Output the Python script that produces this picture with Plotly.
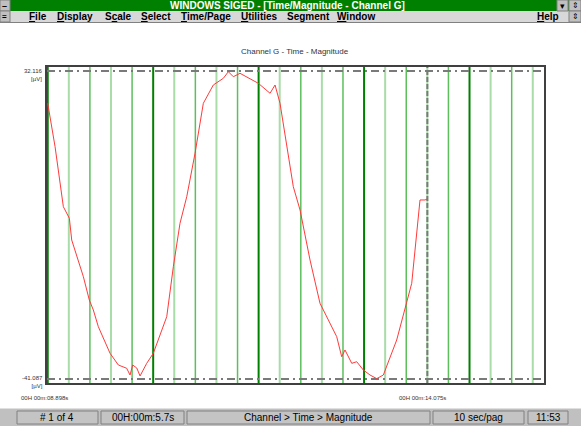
import plotly.graph_objects as go

W, H = 581, 426

# ---- data ----
time_s = [8.898, 8.998, 9.111, 9.193, 9.225, 9.384, 9.465, 9.520, 9.588, 9.748,
          9.861, 9.975, 10.020, 10.057, 10.112, 10.157, 10.248, 10.338, 10.521, 10.611,
          10.702, 10.794, 10.907, 11.020, 11.156, 11.293, 11.361, 11.429, 11.520, 11.770,
          11.930, 11.998, 12.066, 12.247, 12.339, 12.475, 12.611, 12.839, 12.907, 12.952,
          13.044, 13.112, 13.202, 13.293, 13.385, 13.475, 13.657, 13.794, 13.862, 13.975,
          14.043, 14.075]
magnitude_uv = [24.44, 14.12, -0.14, -2.89, -8.05, -16.77, -22.31, -24.69, -28.66, -34.98,
                -37.76, -38.54, -40.14, -37.76, -38.47, -40.37, -37.36, -34.98, -26.28, -14.40,
                -4.08, 2.24, 12.56, 24.44, 28.79, 30.38, 31.95, 30.76, 31.57, 29.19,
                26.82, 28.79, 24.44, 4.62, -0.92, -12.80, -23.09, -31.03, -35.79, -34.19,
                -37.36, -36.98, -38.95, -40.14, -41.00, -40.14, -31.82, -23.09, -18.34, 1.46,
                1.46, 1.69]

y_max_label = 32.116
y_min_label = -41.087
t_start = 8.898
t_end = 14.075
div_sec = 0.28761          # seconds per vertical division
n_divs = 24
x_range = [8.888, 15.666]
y_range = [-42.038, 33.067]

menu_items = ["<u>F</u>ile", "<u>D</u>isplay", "S<u>c</u>ale", "<u>S</u>elect", "<u>T</u>ime/Page",
              "<u>U</u>tilities", "Segment", "<u>W</u>indow"]
menu_x = [38, 75, 118, 156, 206, 259, 308, 356]
status_texts = ["# 1 of 4", "00H:00m:5.7s", "Channel > Time > Magnitude", "10 sec/pag", "11:53"]
status_panels = [(17, 98), (101, 184), (187, 430), (433, 524), (528, 568)]


def X(px):
    return px / W


def Y(py):
    return 1 - py / H


def txt(text, px, py, size, color="black", xanchor="center", family="Liberation Sans", align="center"):
    return dict(text=text, x=X(px), y=Y(py), xref="paper", yref="paper", showarrow=False,
                xanchor=xanchor, yanchor="middle", align=align, borderpad=0,
                font=dict(family=family, size=size, color=color))


fig = go.Figure()

fig.add_trace(go.Scatter(x=time_s, y=magnitude_uv, mode="lines",
                         line=dict(color="#ff3a3a", width=1), hoverinfo="skip",
                         showlegend=False))

shapes = []
# vertical grid lines
for k in range(n_divs):
    xv = t_start + k * div_sec
    if k % 5 == 0:
        col, wd = "#008000", 2
    elif (k % 5) % 2 == 1:
        col, wd = "#a8dca8", 2
    else:
        col, wd = "#5cbf5c", 1.5
    shapes.append(dict(type="line", xref="x", yref="y domain", x0=xv, x1=xv, y0=0, y1=1,
                       line=dict(color=col, width=wd), layer="below"))
# dashed reference lines
for yv in (y_max_label, y_min_label):
    shapes.append(dict(type="line", xref="x domain", yref="y", x0=0, x1=1, y0=yv, y1=yv,
                       line=dict(color="#7a7a7a", width=2, dash="8px,4px,2px,4px"), layer="below"))
shapes.append(dict(type="line", xref="x", yref="y domain", x0=t_end, x1=t_end, y0=0, y1=1,
                   line=dict(color="#7a7a7a", width=2, dash="5px,2px"), layer="below"))

# window chrome
shapes += [
    dict(type="rect", xref="paper", yref="paper", x0=0, x1=1, y0=Y(11), y1=Y(0),
         fillcolor="#008000", line=dict(width=0)),
    dict(type="rect", xref="paper", yref="paper", x0=0, x1=1, y0=Y(22), y1=Y(11),
         fillcolor="#d8d8d8", line=dict(width=0)),
    dict(type="line", xref="paper", yref="paper", x0=0, x1=1, y0=Y(22.5), y1=Y(22.5),
         line=dict(color="#808080", width=1)),
    dict(type="rect", xref="paper", yref="paper", x0=X(0), x1=X(10), y0=Y(11), y1=Y(0),
         fillcolor="#c0c0c0", line=dict(color="#808080", width=1)),
    dict(type="rect", xref="paper", yref="paper", x0=X(0), x1=X(10), y0=Y(22), y1=Y(11),
         fillcolor="#c0c0c0", line=dict(color="#808080", width=1)),
    dict(type="rect", xref="paper", yref="paper", x0=X(557), x1=X(568), y0=Y(11), y1=Y(0),
         fillcolor="#c0c0c0", line=dict(color="#808080", width=1)),
    dict(type="rect", xref="paper", yref="paper", x0=X(569), x1=X(581), y0=Y(11), y1=Y(0),
         fillcolor="#c0c0c0", line=dict(color="#808080", width=1)),
    dict(type="rect", xref="paper", yref="paper", x0=X(569), x1=X(581), y0=Y(22), y1=Y(11),
         fillcolor="#c0c0c0", line=dict(color="#808080", width=1)),
    dict(type="rect", xref="paper", yref="paper", x0=0, x1=1, y0=0, y1=Y(408),
         fillcolor="#c0c0c0", line=dict(width=0)),
    dict(type="line", xref="paper", yref="paper", x0=0, x1=1, y0=Y(408), y1=Y(408),
         line=dict(color="#ffffff", width=1)),
]
for (a, b) in status_panels:
    shapes.append(dict(type="rect", xref="paper", yref="paper", x0=X(a), x1=X(b),
                       y0=Y(424), y1=Y(411), fillcolor="#c4c4c4",
                       line=dict(color="#808080", width=1)))

annotations = [
    txt("<b>WINDOWS SIGED - [Time/Magnitude - Channel G]</b>", 287, 5.5, 10, "white"),
    txt("▾", 562.5, 5.5, 9),
    txt("⇕", 575, 5.5, 8),
    txt("⇕", 575, 16.5, 8),
    txt("<b>–</b>", 5, 5.5, 9),
    txt("<b>=</b>", 5, 16.5, 8),
    txt("<b><u>H</u>elp</b>", 548, 16.5, 10),
    txt("Channel G - Time - Magnitude", 295, 52, 8, "#333333"),
    txt(f"{y_max_label:.3f}<br>[µV]", 44, 75, 6, "#333333", xanchor="right", align="right"),
    txt(f"{y_min_label:.3f}<br>[µV]", 44, 382, 6, "#333333", xanchor="right", align="right"),
    txt("00H 00m:08.898s", 20, 398, 6, "#333333", xanchor="left"),
    txt("00H 00m:14.075s", 398, 398, 6, "#333333", xanchor="left"),
]
for name, mx in zip(menu_items, menu_x):
    annotations.append(txt(f"<b>{name}</b>", mx, 16.5, 10))
for t, (a, b) in zip(status_texts, status_panels):
    annotations.append(txt(t, (a + b) / 2, 417.5, 10))

fig.update_layout(
    width=W, height=H, margin=dict(l=0, r=0, t=0, b=0),
    paper_bgcolor="white", plot_bgcolor="white",
    shapes=shapes, annotations=annotations, showlegend=False,
    xaxis=dict(domain=[X(47), X(544)], range=x_range, showgrid=False, zeroline=False,
               showticklabels=False, ticks="", showline=True, mirror=True,
               linecolor="#404040", linewidth=2),
    yaxis=dict(domain=[Y(383), Y(67)], range=y_range, showgrid=False, zeroline=False,
               showticklabels=False, ticks="", showline=True, mirror=True,
               linecolor="#404040", linewidth=2),
)

fig.write_html("out.html", config={"displayModeBar": False},
               post_script="document.body.style.margin='0';document.body.style.overflow='hidden';")
